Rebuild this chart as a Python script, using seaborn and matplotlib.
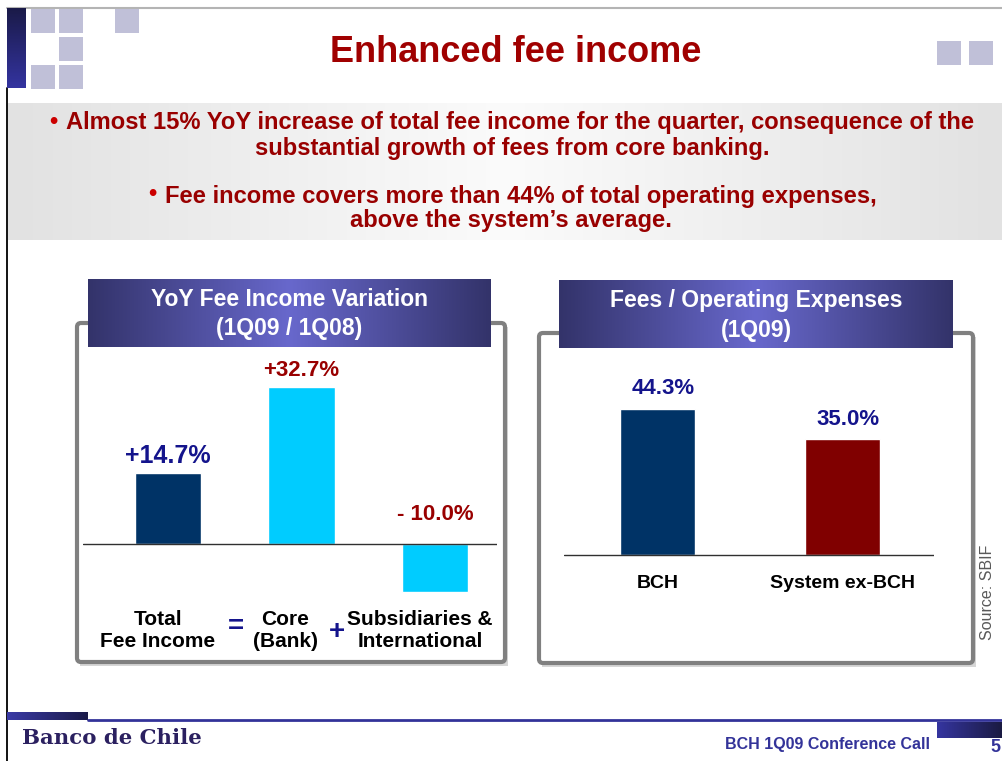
import numpy as np
import pandas as pd
import matplotlib
matplotlib.use("Agg")
import matplotlib.pyplot as plt
import seaborn as sns
from matplotlib.colors import LinearSegmentedColormap
from matplotlib.patches import Rectangle, FancyBboxPatch

# DATA

yoy_categories = ["Total\nFee Income", "Core\n(Bank)", "Subsidiaries &\nInternational"]
yoy_values = [14.7, 32.7, -10.0]
yoy_labels = ["+14.7%", "+32.7%", "- 10.0%"]

ratio_categories = ["BCH", "System ex-BCH"]
ratio_values = [44.3, 35.0]
ratio_labels = ["44.3%", "35.0%"]

title = "Enhanced fee income"
bullet_1 = ["Almost 15% YoY increase of total fee income for the quarter, consequence of the",
            "substantial growth of fees from core banking."]
bullet_2 = ["Fee income covers more than 44% of total operating expenses,",
            "above the system\u2019s average."]
yoy_header = ["YoY Fee Income Variation", "(1Q09 / 1Q08)"]
ratio_header = ["Fees / Operating Expenses", "(1Q09)"]
footer_left = "Banco de Chile"
footer_right = "BCH 1Q09 Conference Call"
page_no = "5"
source = "Source: SBIF"

# COLOURS

NAVY_BAR = "#003366"
CYAN_BAR = "#00ccff"
MAROON_BAR = "#800000"
LABEL_NAVY = "#14148c"
LABEL_RED = "#990000"
TEXT_RED = "#990000"
SQUARE = "#c0c0d8"

sns.set_theme(style="white")
plt.rcParams["font.family"] = ["Liberation Sans", "DejaVu Sans"]
NARROW = ["Liberation Sans Narrow", "Liberation Sans", "DejaVu Sans"]

W, H = 1003, 761
fig = plt.figure(figsize=(W / 100, H / 100), dpi=100)
renderer = fig.canvas.get_renderer()

# background axes in pixel coordinates (y downwards)
bg = fig.add_axes([0, 0, 1, 1])
bg.set_xlim(0, W)
bg.set_ylim(H, 0)
bg.axis("off")


def gradient_box(x0, y0, x1, y1, colors, vertical=False, zorder=1):
    cmap = LinearSegmentedColormap.from_list("g", colors)
    grad = np.linspace(0, 1, 256)
    arr = grad.reshape(-1, 1) if vertical else grad.reshape(1, -1)
    bg.imshow(arr, cmap=cmap, extent=(x0, x1, y1, y0), aspect="auto",
              zorder=zorder, interpolation="bilinear")


def fit_text(x, y, s, width_px, size=12, **kw):
    t = bg.text(x, y, s, fontsize=size, **kw)
    bb = t.get_window_extent(renderer=renderer)
    t.set_fontsize(size * width_px / bb.width)
    return t


def px_to_fig(x0, y0, x1, y1):
    return [x0 / W, 1 - y1 / H, (x1 - x0) / W, (y1 - y0) / H]


# SLIDE DECORATION

bg.plot([7, W], [7.5, 7.5], color="#b4b4b4", lw=1.5, zorder=2)
bg.plot([7.5, 7.5], [88, H], color="black", lw=1.3, zorder=2)
gradient_box(7, 8, 26, 88, ["#1a1a48", "#3434a0"], vertical=True, zorder=3)

for (x, y) in [(31, 9), (59, 9), (115, 9), (59, 37), (31, 65), (59, 65), (937, 41), (969, 41)]:
    bg.add_patch(Rectangle((x, y), 24, 24, color=SQUARE, lw=0, zorder=3))

fit_text(516, 52, title, 373, size=24, color="#a00000", fontweight="bold",
         ha="center", va="center", zorder=4)

# grey band with bullets
gradient_box(8, 103, W, 240, ["#e2e2e2", "#fbfbfb", "#e2e2e2"], zorder=2)

t1 = fit_text(520.5, 123, bullet_1[0], 915, size=15, color=TEXT_RED, family=NARROW,
              fontweight="bold", ha="center", va="center", zorder=4)
fs = t1.get_fontsize()
bg.text(512, 149, bullet_1[1], fontsize=fs, color=TEXT_RED, fontweight="bold",
        family=NARROW, ha="center", va="center", zorder=4)
t3 = bg.text(521, 196, bullet_2[0], fontsize=fs, color=TEXT_RED, fontweight="bold",
             family=NARROW, ha="center", va="center", zorder=4)
bg.text(511, 221, bullet_2[1], fontsize=fs, color=TEXT_RED, fontweight="bold",
        family=NARROW, ha="center", va="center", zorder=4)
for t, y in [(t1, 121), (t3, 194)]:
    left = t.get_window_extent(renderer=renderer).x0
    bg.text(left - 9, y, "\u2022", fontsize=fs, color="#cc0000", fontweight="bold",
            ha="right", va="center", zorder=4)

# panel frames
for (x0, y0, x1, y1) in [(77, 323, 505, 662), (539, 333, 973, 663)]:
    bg.add_patch(Rectangle((x0 + 3, y0 + 4), x1 - x0, y1 - y0, color="#d6d6d6", lw=0, zorder=2))
    bg.add_patch(FancyBboxPatch((x0, y0), x1 - x0, y1 - y0,
                                boxstyle="round,pad=0,rounding_size=4",
                                fc="white", ec="#808080", lw=3, zorder=3))

# panel headers
for (x0, y0, x1, y1), lines, ys in [((88, 279, 491, 347), yoy_header, (300, 329)),
                                    ((559, 280, 953, 348), ratio_header, (301, 330))]:
    gradient_box(x0, y0, x1, y1, ["#33336a", "#6868cc", "#33336a"], zorder=4)
    for s, y in zip(lines, ys):
        bg.text((x0 + x1) / 2, y, s, fontsize=16.5, color="white", fontweight="bold",
                ha="center", va="center", zorder=5)

# footer
gradient_box(7, 712, 88, 720, ["#3a3aa6", "#1a1a48"], zorder=3)
bg.plot([88, W], [719.5, 719.5], color="#333399", lw=2, zorder=3)
gradient_box(937, 722, W, 738, ["#3535a0", "#1a1a40"], zorder=3)
fit_text(22, 738, footer_left, 180, size=20, color="#2b2060", fontweight="bold",
         family=["DejaVu Serif"], ha="left", va="center", zorder=4)
bg.text(828, 744, footer_right, fontsize=11.5, color="#333399", fontweight="bold",
        ha="center", va="center", zorder=4)
bg.text(995, 748, page_no, fontsize=13, color="#333399", fontweight="bold",
        ha="center", va="center", zorder=4)
bg.text(988, 592, source, fontsize=11.5, color="#595959", rotation=90,
        ha="center", va="center", zorder=4)

# operators between categories
bg.text(236, 627, "=", fontsize=20, color=LABEL_NAVY, fontweight="bold",
        ha="center", va="center", zorder=6)
bg.text(337, 632, "+", fontsize=20, color=LABEL_NAVY, fontweight="bold",
        ha="center", va="center", zorder=6)

bg.set_xlim(0, W)
bg.set_ylim(H, 0)

# LEFT CHART: YoY fee income variation

yoy_df = pd.DataFrame({"category": yoy_categories, "value": yoy_values})
ax1 = fig.add_axes(px_to_fig(83, 347, 497, 612))
ax1.set_zorder(5)
ax1.patch.set_alpha(0)
sns.barplot(data=yoy_df, x="category", y="value", hue="category",
            palette=[NAVY_BAR, CYAN_BAR, CYAN_BAR], saturation=1,
            width=0.5, legend=False, ax=ax1)
ax1.axhline(0, color="#303030", lw=1)
ax1.set_xlim(-0.637, 2.464)
ax1.set_ylim(-14.17, 41.04)
ax1.axis("off")

label_colors = [LABEL_NAVY, LABEL_RED, LABEL_RED]
label_sizes = [18, 16, 16]
cat_dx = [-10, -16, -15]
for i, (v, lab) in enumerate(zip(yoy_values, yoy_labels)):
    ybase = max(v, 0)
    ax1.annotate(lab, (i, ybase), xytext=(0, 14 if v < 0 else 4), textcoords="offset points",
                 ha="center", va="bottom", fontsize=label_sizes[i], fontweight="bold",
                 color=label_colors[i])
    ax1.annotate(yoy_categories[i], (i, 0), xytext=(cat_dx[i] * 0.72, -87 * 0.72),
                 textcoords="offset points", ha="center", va="center", fontsize=15,
                 fontweight="bold", color="black", linespacing=1.2,
                 annotation_clip=False)

# RIGHT CHART: fees / operating expenses

ratio_df = pd.DataFrame({"category": ratio_categories, "value": ratio_values})
ax2 = fig.add_axes(px_to_fig(564, 348, 934, 600))
ax2.set_zorder(5)
ax2.patch.set_alpha(0)
sns.barplot(data=ratio_df, x="category", y="value", hue="category",
            palette=[NAVY_BAR, MAROON_BAR], saturation=1,
            width=0.405, legend=False, ax=ax2)
ax2.axhline(0, color="#303030", lw=1)
ax2.set_xlim(-0.505, 1.495)
ax2.set_ylim(-13.6, 62.7)
ax2.axis("off")

for i, (v, lab) in enumerate(zip(ratio_values, ratio_labels)):
    ax2.annotate(lab, (i, v), xytext=(4, 7), textcoords="offset points",
                 ha="center", va="bottom", fontsize=16, fontweight="bold",
                 color=LABEL_NAVY)
    ax2.annotate(ratio_categories[i], (i, 0), xytext=(0, -28 * 0.72),
                 textcoords="offset points", ha="center", va="center", fontsize=14,
                 fontweight="bold", color="black", annotation_clip=False)

fig.savefig("out.png", dpi=100)
